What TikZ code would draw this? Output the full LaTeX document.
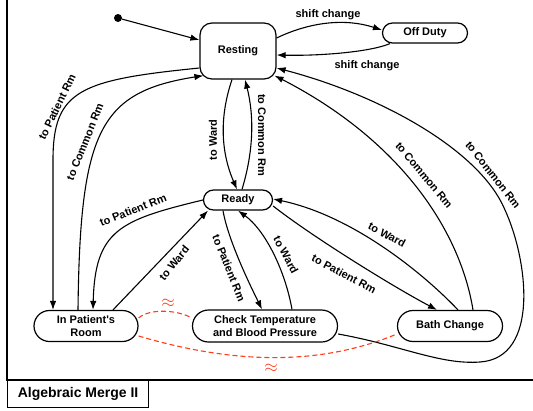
\documentclass[tikz,border=0pt]{standalone}
\usepackage{fontspec}
\setmainfont{Liberation Sans}
\usepackage{xcolor}
\usetikzlibrary{shapes.misc}
\usetikzlibrary{arrows.meta}
\definecolor{flettrod}{RGB}{255,61,25}

\begin{document}
\begin{tikzpicture}[
    x=1pt, y=-1pt,
    >={Latex[length=9pt,width=6.5pt]},
    every node/.style={font=\bfseries\fontsize{11}{13.5}\selectfont},
    tilstand/.style={rounded rectangle, draw=black, line width=1.2pt,
    fill=white, inner xsep=4pt, inner ysep=2pt, align=center},
    kant/.style={inner sep=1pt},
    overgang/.style={->, line width=1.1pt},
    flett/.style={draw=flettrod, line width=1.1pt, dash pattern=on 5pt off 3pt},
    bolge/.style={text=flettrod, inner sep=0pt, font=\fontsize{17}{17}\selectfont}
]
\useasboundingbox (0,0) rectangle (533,410);

% ramme og tittel
\draw[line width=1.3pt] (7,0) -- (7,380) -- (533,380);
\node[draw, line width=1.2pt, anchor=north west, minimum width=141pt,
    minimum height=27pt, font=\bfseries\fontsize{14}{16}\selectfont]
    (tittel) at (7,380) {Algebraic Merge II};

% tilstander
\node[circle, fill=black, inner sep=0pt, minimum size=8pt] (start) at (118,18) {};
\node[draw, line width=1.2pt, rounded corners=12pt, minimum width=76pt,
    minimum height=56pt] (resting) at (238,51) {Resting};
\node[tilstand, minimum width=93pt, minimum height=20pt] (offduty) at (425,33) {Off Duty};
\node[tilstand, minimum width=77pt, minimum height=20pt] (ready) at (238,200) {Ready};
\node[tilstand, minimum width=112pt, minimum height=31pt] (pasient) at (86,326)
    {In Patient\textquotesingle s\\Room};
\node[tilstand, minimum width=153pt, minimum height=32pt] (sjekk) at (265,326)
    {Check Temperature\\and Blood Pressure};
\node[tilstand, minimum width=113pt, minimum height=31pt] (bad) at (450,326) {Bath Change};

% overganger
\draw[overgang] (start) -- ([yshift=11pt]resting.west);

\draw[overgang] ([yshift=-17pt]resting.west) .. controls (80,80) and (53,90) .. (53,160)
    -- ([xshift=-33pt]pasient.north);
\node[kant, rotate=64] (l1) at (57,107) {to Patient Rm};
\draw[overgang] ([xshift=-8pt]pasient.north) .. controls (80,130) and (100,92)
    .. ([xshift=4pt,yshift=4pt]resting.south west);
\node[kant, rotate=68] (l2) at (85,142) {to Common Rm};

\draw[overgang] ([xshift=-6pt]resting.south) .. controls (220,115) and (220,150)
    .. ([xshift=-1pt]ready.north);
\node[kant, rotate=90] (l3) at (213,140) {to Ward};
\draw[overgang] ([xshift=4pt]ready.north) .. controls (254,150) and (254,115)
    .. ([xshift=7pt]resting.south);
\node[kant, rotate=-90] (l4) at (262,135) {to Common Rm};

\draw[overgang] ([yshift=13pt]resting.east) .. controls (310,22) and (345,18)
    .. ([yshift=3pt]offduty.west);
\node[kant] (l5) at (328,15) {shift change};
\draw[overgang] ([xshift=-35pt]offduty.south) .. controls (370,52) and (320,56)
    .. ([yshift=-4pt]resting.east);
\node[kant] (l6) at (367,66) {shift change};

\draw[overgang] ([xshift=23pt]bad.north) .. controls (460,230) and (400,140)
    .. ([xshift=-2pt,yshift=4pt]resting.south east);
\node[kant, rotate=-50] (l7) at (424,175) {to Common Rm};
\draw[overgang] ([yshift=-8pt]sjekk.east) .. controls (400,345) and (440,365) .. (480,362)
    .. controls (540,358) and (528,260) .. (505,210)
    .. controls (480,150) and (380,95) .. ([yshift=-17pt]resting.east);
\node[kant, rotate=-52] (l8) at (493,175) {to Common Rm};

\draw[overgang] (ready.west) .. controls (120,220) and (95,230) .. ([xshift=7pt]pasient.north);
\node[kant, rotate=22] (l9) at (133,210) {to Patient Rm};
\draw[overgang] ([xshift=27pt]pasient.north) -- ([xshift=-30pt]ready.south);
\node[kant, rotate=51] (l10) at (174,263) {to Ward};

\draw[overgang] ([xshift=-15pt]ready.south) .. controls (228,240) and (250,285)
    .. ([xshift=-3pt]sjekk.north);
\node[kant, rotate=-68] (l11) at (229,268) {to Patient Rm};
\draw[overgang] ([xshift=27pt]sjekk.north) .. controls (285,270) and (265,230) .. (ready.south);
\node[kant, rotate=-62] (l12) at (286,255) {to Ward};

\draw[overgang] ([yshift=-6pt]ready.east) .. controls (310,235) and (390,285)
    .. ([xshift=-13pt]bad.north);
\node[kant, rotate=-28] (l13) at (344,274) {to Patient Rm};
\draw[overgang] ([xshift=8pt]bad.north) .. controls (420,270) and (350,215)
    .. ([yshift=1pt]ready.east);
\node[kant, rotate=-28] (l14) at (387,235) {to Ward};

% flettekanter
\draw[flett] ([yshift=8pt]pasient.east) .. controls (150,308) and (178,310)
    .. ([yshift=8pt]sjekk.west);
\node[bolge] (b1) at (168,303) {$\approx$};
\draw[flett] ([yshift=-10pt]pasient.east) .. controls (220,360) and (310,370)
    .. ([yshift=-8pt]bad.west);
\node[bolge] (b2) at (271,368) {$\approx$};
\end{tikzpicture}
\end{document}
